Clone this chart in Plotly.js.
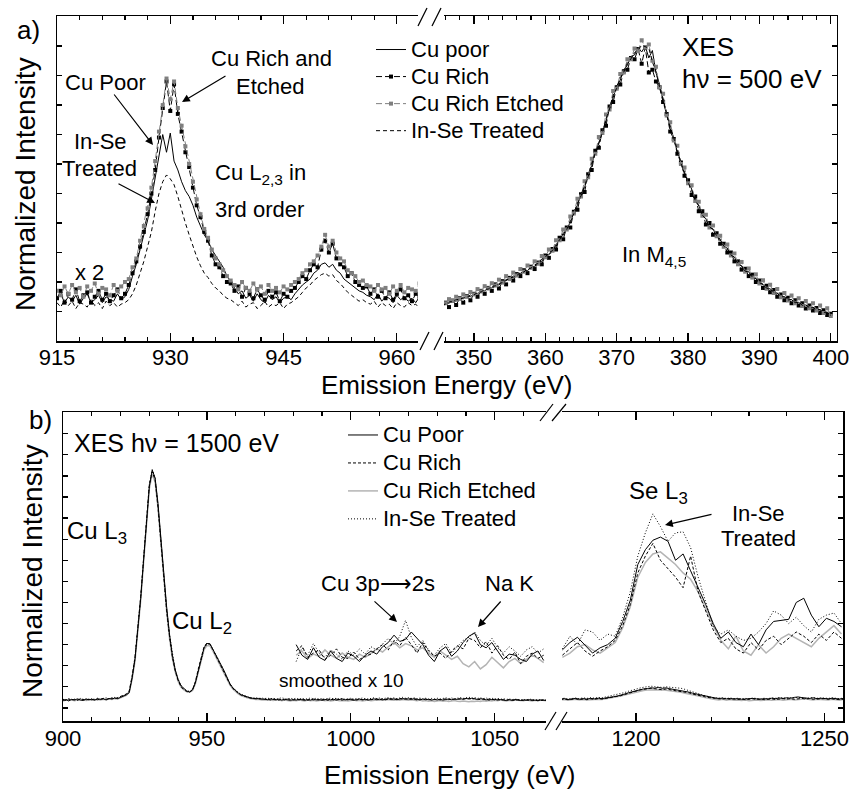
<!DOCTYPE html>
<html><head><meta charset="utf-8">
<script src="https://cdn.plot.ly/plotly-3.0.1.min.js"></script>
<style>body{margin:0;background:#fff}#chart{width:851px;height:790px}</style>
</head><body><div id="chart"></div>
<script>
// ---------- Panel a) XES hv = 500 eV ----------
// Cu L2,3 third order (x 2), energy grid 915 .. 963 eV, 0.5 eV step
const aL_start = 915, aL_step = 0.5;
const aL_poor = [1.4,1.6,1.3,1.5,1.35,1.55,1.25,1.45,1.6,1.3,1.4,1.55,1.3,1.5,1.4,1.35,1.6,1.4,1.5,1.75,
2.2,2.6,3.1,3.6,4.1,4.8,5.5,6.3,7.0,6.4,7.05,6.1,5.8,5.4,5.1,4.9,4.6,4.2,3.9,3.6,3.4,3.1,2.9,2.7,2.5,2.2,2.0,
1.8,1.6,1.7,1.45,1.55,1.35,1.6,1.4,1.3,1.55,1.4,1.5,1.3,1.45,1.5,1.4,
1.6,1.75,1.9,2.0,2.1,2.3,2.4,2.6,2.65,2.5,2.6,2.4,2.3,2.1,2.0,1.9,1.8,1.7,1.65,1.55,
1.5,1.4,1.6,1.35,1.5,1.45,1.3,1.55,1.4,1.5,1.35,1.45,1.3,1.5];
const aL_rich = [1.45,1.7,1.3,1.6,1.4,1.75,1.35,1.55,1.65,1.3,1.5,1.7,1.4,1.6,1.35,1.55,1.75,1.45,1.6,1.9,
2.3,2.7,3.2,3.7,4.3,5.0,5.8,6.9,7.9,8.8,7.8,8.7,7.7,7.1,6.4,5.9,5.2,4.6,4.2,3.7,3.4,2.9,2.6,2.5,2.2,2.0,1.95,
1.7,1.85,1.5,1.8,1.6,1.45,1.75,1.55,1.4,1.7,1.5,1.65,1.35,1.6,1.5,1.7,
1.8,2.0,2.2,2.1,2.4,2.6,2.5,3.1,3.4,3.0,3.3,2.8,2.6,2.5,2.2,2.3,2.0,1.9,1.8,1.85,
1.6,1.75,1.5,1.7,1.45,1.65,1.4,1.6,1.75,1.45,1.55,1.35,1.6,1.5];
const aL_etch = [1.7,1.55,1.85,1.6,1.9,1.65,1.8,1.5,1.85,1.7,1.95,1.6,1.8,1.75,1.55,1.9,1.7,1.85,2.0,2.1,
2.5,2.8,3.4,3.9,4.5,5.2,6.1,7.1,8.0,8.9,8.2,8.8,7.9,7.3,6.6,6.0,5.4,4.8,4.3,3.8,3.5,3.1,2.8,2.6,2.4,2.2,2.05,
1.9,1.75,2.0,1.8,1.7,1.95,1.75,1.85,1.6,1.9,1.7,1.8,1.65,1.85,1.75,1.9,
2.0,2.1,2.3,2.4,2.6,2.7,2.9,3.2,3.6,3.2,3.4,3.0,2.8,2.7,2.4,2.3,2.2,2.0,2.05,1.9,
1.85,1.7,1.9,1.75,1.8,1.6,1.85,1.7,1.9,1.65,1.8,1.75,1.7,1.95];
const aL_inse = [1.3,1.15,1.4,1.2,1.35,1.1,1.3,1.25,1.15,1.4,1.2,1.3,1.1,1.35,1.2,1.3,1.15,1.25,1.3,1.4,
1.6,1.9,2.3,2.7,3.2,3.7,4.4,5.0,5.4,5.63,5.5,5.3,4.9,4.4,4.0,3.6,3.2,2.85,2.55,2.3,2.15,1.95,1.8,1.7,1.55,1.45,1.4,
1.3,1.2,1.35,1.15,1.25,1.3,1.1,1.2,1.35,1.15,1.25,1.2,1.3,1.1,1.25,1.3,
1.4,1.5,1.65,1.8,1.9,2.05,2.15,2.25,2.3,2.2,2.25,2.05,1.95,1.8,1.65,1.55,1.45,1.35,1.4,1.3,
1.25,1.35,1.15,1.3,1.2,1.25,1.1,1.3,1.2,1.15,1.3,1.2,1.25,1.1];

// In M4,5, energy grid 345.5 .. 400 eV, 0.5 eV step
const aR_start = 345.5, aR_step = 0.5;
const aR_poor = [1.2,1.3,1.28,1.38,1.35,1.45,1.43,1.52,1.5,1.6,
1.6,1.7,1.7,1.8,1.8,1.92,1.9,2.02,2.04,2.15,
2.15,2.27,2.28,2.4,2.38,2.52,2.52,2.68,2.7,2.9,
2.92,3.12,3.2,3.5,3.58,3.85,4.0,4.4,4.6,5.0,
5.2,5.65,5.95,6.45,6.7,7.15,7.45,7.95,8.25,8.65,
8.85,9.2,9.35,9.65,9.7,9.95,9.8,10.0,9.6,9.85,
9.1,8.7,8.15,7.75,7.2,6.9,6.4,6.1,5.65,5.45,
5.15,4.75,4.6,4.25,4.15,3.85,3.8,3.55,3.45,3.2,
3.15,2.9,2.85,2.6,2.55,2.35,2.35,2.15,2.12,1.95,
1.92,1.78,1.77,1.65,1.62,1.5,1.49,1.4,1.4,1.3,
1.31,1.22,1.22,1.14,1.13,1.05,1.05,0.97,0.97,0.9];
const aR_rich = [1.1,1.3,1.15,1.37,1.22,1.45,1.3,1.52,1.38,1.6,
1.5,1.7,1.6,1.8,1.7,1.92,1.78,2.03,1.92,2.14,
2.05,2.27,2.2,2.4,2.3,2.52,2.44,2.66,2.6,2.9,
2.82,3.12,3.1,3.5,3.45,3.85,3.85,4.38,4.45,4.98,
5.05,5.65,5.8,6.45,6.55,7.15,7.3,7.95,8.1,8.6,
8.7,9.15,9.2,9.6,9.55,9.9,9.4,9.95,9.1,9.2,
8.8,8.6,8.1,7.7,7.1,6.85,6.35,6.05,5.6,5.45,
4.95,4.9,4.4,4.4,3.95,4.0,3.6,3.65,3.3,3.3,
3.0,3.0,2.7,2.7,2.42,2.45,2.2,2.25,2.0,2.05,
1.8,1.87,1.65,1.73,1.5,1.58,1.38,1.47,1.28,1.38,
1.2,1.28,1.1,1.2,1.03,1.12,0.95,1.04,0.88,0.92];
const aR_etch = [1.32,1.28,1.42,1.36,1.5,1.43,1.58,1.5,1.66,1.58,
1.76,1.68,1.86,1.78,1.96,1.88,2.08,1.98,2.2,2.1,
2.32,2.22,2.44,2.35,2.56,2.48,2.7,2.62,2.88,2.84,
3.1,3.06,3.42,3.42,3.78,3.78,4.22,4.32,4.82,4.9,
5.42,5.55,6.18,6.35,6.92,7.05,7.68,7.85,8.48,8.55,
9.05,9.1,9.55,9.55,9.92,9.85,10.2,9.95,10.05,9.5,
9.3,8.6,8.38,7.65,7.42,6.8,6.62,6.0,5.88,5.35,
5.28,4.75,4.72,4.25,4.28,3.85,3.92,3.55,3.57,3.2,
3.27,2.9,2.97,2.6,2.68,2.35,2.46,2.15,2.26,1.95,
2.06,1.77,1.91,1.63,1.76,1.48,1.63,1.37,1.54,1.28,
1.45,1.19,1.36,1.11,1.28,1.03,1.2,0.95,1.11,0.85];
const aR_inse = [1.22,1.25,1.33,1.33,1.41,1.4,1.48,1.48,1.56,1.56,
1.65,1.66,1.75,1.76,1.85,1.87,1.95,1.98,2.08,2.1,
2.2,2.22,2.32,2.34,2.45,2.47,2.58,2.63,2.78,2.84,
3.0,3.06,3.28,3.43,3.65,3.78,4.08,4.32,4.68,4.92,
5.28,5.57,6.03,6.37,6.78,7.07,7.53,7.87,8.33,8.57,
8.93,9.12,9.43,9.57,9.78,9.87,10.03,9.97,9.93,9.47,
9.13,8.62,8.23,7.67,7.28,6.82,6.48,6.02,5.73,5.37,
5.13,4.77,4.58,4.27,4.13,3.87,3.78,3.57,3.43,3.22,
3.13,2.92,2.83,2.62,2.55,2.37,2.33,2.17,2.13,1.97,
1.93,1.79,1.78,1.65,1.63,1.5,1.5,1.39,1.41,1.3,
1.32,1.21,1.23,1.13,1.15,1.05,1.07,0.97,0.98,0.87];

// ---------- Panel b) XES hv = 1500 eV ----------
// Cu L2,3 region, 900 .. 1068 eV, 1 eV step
const bL_start = 900, bL_step = 1;
const bL_poor = [0.36,0.4,0.33,0.41,0.37,0.43,0.38,0.35,0.42,0.39,
0.41,0.37,0.44,0.4,0.43,0.38,0.45,0.42,0.47,0.44,
0.5,0.55,0.62,0.72,1.4,2.3,3.6,5.2,7.0,8.9,
10.5,11.28,10.9,9.7,8.0,6.3,4.8,3.5,2.5,1.8,
1.35,1.05,0.9,0.8,0.76,0.85,1.2,1.8,2.4,2.85,
3.05,3.05,2.8,2.55,2.3,2.05,1.75,1.45,1.15,0.95,
0.8,0.7,0.62,0.56,0.52,0.48,0.46,0.43,0.45,0.41,
0.42,0.39,0.43,0.4,0.38,0.42,0.37,0.41,0.39,0.36,
0.4,0.37,0.41,0.38,0.36,0.4,0.37,0.42,0.38,0.4,
0.36,0.39,0.42,0.38,0.41,0.37,0.4,0.43,0.38,0.41,
0.39,0.36,0.4,0.42,0.38,0.41,0.37,0.4,0.43,0.39,
0.41,0.38,0.42,0.44,0.4,0.43,0.39,0.42,0.45,0.41,
0.43,0.4,0.44,0.41,0.38,0.42,0.39,0.41,0.37,0.4,
0.38,0.41,0.37,0.4,0.42,0.39,0.43,0.4,0.44,0.41,
0.45,0.42,0.46,0.43,0.4,0.44,0.41,0.38,0.42,0.39,
0.41,0.37,0.4,0.38,0.35,0.39,0.36,0.4,0.37,0.35,
0.38,0.36,0.39,0.35,0.37,0.34,0.38,0.36,0.35];
const bL_rich = [0.39,0.35,0.42,0.37,0.4,0.36,0.43,0.39,0.37,0.42,
0.38,0.43,0.39,0.42,0.45,0.41,0.44,0.47,0.43,0.48,
0.53,0.58,0.66,0.8,1.5,2.4,3.7,5.3,7.1,9.0,
10.6,11.2,10.8,9.5,7.8,6.1,4.6,3.4,2.4,1.75,
1.3,1.0,0.86,0.78,0.74,0.86,1.25,1.85,2.45,2.9,
3.08,3.02,2.78,2.5,2.25,2.0,1.7,1.4,1.12,0.92,
0.78,0.68,0.6,0.55,0.5,0.47,0.44,0.45,0.42,0.44,
0.4,0.43,0.38,0.42,0.4,0.37,0.41,0.38,0.43,0.39,
0.37,0.41,0.38,0.42,0.39,0.36,0.41,0.38,0.4,0.37,
0.41,0.38,0.36,0.41,0.38,0.42,0.39,0.37,0.41,0.38,
0.42,0.39,0.37,0.41,0.4,0.38,0.42,0.39,0.41,0.43,
0.4,0.43,0.39,0.41,0.44,0.4,0.42,0.45,0.41,0.44,
0.42,0.45,0.41,0.38,0.42,0.39,0.43,0.38,0.41,0.39,
0.42,0.38,0.41,0.43,0.39,0.42,0.4,0.44,0.41,0.43,
0.42,0.45,0.41,0.44,0.42,0.39,0.43,0.4,0.37,0.41,
0.38,0.41,0.37,0.39,0.36,0.4,0.38,0.35,0.39,0.37,
0.35,0.38,0.36,0.39,0.34,0.37,0.35,0.38,0.34];
const bL_etch = [0.33,0.37,0.35,0.39,0.34,0.38,0.36,0.4,0.35,0.37,
0.39,0.36,0.4,0.38,0.41,0.39,0.42,0.4,0.44,0.42,
0.48,0.52,0.6,0.74,1.35,2.2,3.5,5.1,6.9,8.8,
10.4,11.1,10.7,9.5,7.8,6.1,4.6,3.3,2.35,1.7,
1.25,0.98,0.85,0.77,0.75,0.83,1.15,1.7,2.3,2.75,
2.95,2.95,2.72,2.45,2.2,1.95,1.65,1.35,1.08,0.9,
0.75,0.65,0.58,0.52,0.48,0.45,0.42,0.4,0.41,0.38,
0.39,0.36,0.38,0.35,0.37,0.39,0.34,0.37,0.35,0.33,
0.36,0.34,0.38,0.35,0.33,0.37,0.34,0.36,0.33,0.35,
0.37,0.34,0.36,0.33,0.35,0.38,0.34,0.36,0.35,0.33,
0.35,0.37,0.34,0.36,0.33,0.35,0.37,0.34,0.36,0.38,
0.36,0.39,0.37,0.4,0.38,0.36,0.39,0.37,0.4,0.38,
0.37,0.39,0.36,0.34,0.37,0.33,0.35,0.32,0.34,0.31,
0.33,0.35,0.32,0.34,0.31,0.33,0.35,0.32,0.3,0.33,
0.31,0.29,0.32,0.3,0.33,0.31,0.34,0.32,0.35,0.33,
0.36,0.34,0.37,0.35,0.33,0.36,0.34,0.37,0.35,0.36,
0.34,0.37,0.35,0.33,0.36,0.34,0.37,0.35,0.34];
const bL_inse = [0.41,0.37,0.44,0.39,0.42,0.38,0.45,0.4,0.43,0.39,
0.44,0.4,0.46,0.42,0.45,0.48,0.43,0.47,0.5,0.46,
0.52,0.57,0.65,0.78,1.45,2.35,3.65,5.25,7.05,9.0,
10.6,11.3,10.9,9.6,7.9,6.2,4.7,3.45,2.5,1.8,
1.35,1.08,0.92,0.82,0.78,0.88,1.22,1.78,2.38,2.82,
3.02,3.04,2.8,2.55,2.28,2.02,1.72,1.45,1.15,0.96,
0.82,0.72,0.64,0.58,0.54,0.5,0.47,0.49,0.45,0.47,
0.44,0.47,0.43,0.46,0.42,0.45,0.48,0.44,0.42,0.46,
0.43,0.46,0.42,0.45,0.41,0.44,0.47,0.43,0.46,0.42,
0.45,0.41,0.44,0.47,0.43,0.46,0.42,0.45,0.41,0.44,
0.46,0.42,0.45,0.43,0.47,0.44,0.41,0.45,0.48,0.44,
0.47,0.43,0.46,0.49,0.45,0.48,0.44,0.47,0.5,0.46,
0.49,0.45,0.48,0.44,0.47,0.43,0.46,0.42,0.45,0.43,
0.46,0.42,0.45,0.48,0.44,0.47,0.43,0.46,0.49,0.45,
0.48,0.51,0.46,0.49,0.45,0.48,0.44,0.47,0.43,0.46,
0.42,0.45,0.41,0.44,0.4,0.43,0.39,0.42,0.4,0.38,
0.41,0.38,0.42,0.39,0.37,0.4,0.38,0.36,0.39];

// Se L3 region, 1180 .. 1255 eV, 1 eV step
const bR_start = 1180, bR_step = 1;
const bR_poor = [0.42,0.44,0.4,0.43,0.45,0.41,0.44,0.42,0.45,0.43,
0.46,0.44,0.48,0.5,0.53,0.56,0.6,0.66,0.72,0.77,
0.83,0.87,0.9,0.92,0.95,0.94,0.97,0.93,0.95,0.91,
0.88,0.86,0.84,0.79,0.75,0.7,0.66,0.61,0.57,0.53,
0.5,0.47,0.45,0.46,0.43,0.45,0.42,0.44,0.41,0.43,
0.42,0.45,0.43,0.41,0.44,0.42,0.46,0.44,0.47,0.45,
0.48,0.46,0.5,0.52,0.49,0.47,0.45,0.48,0.44,0.46,
0.45,0.43,0.46,0.44,0.42,0.45];
const bR_rich = [0.4,0.42,0.39,0.41,0.43,0.4,0.42,0.39,0.43,0.41,
0.44,0.42,0.46,0.49,0.51,0.55,0.58,0.64,0.7,0.75,
0.8,0.85,0.88,0.9,0.93,0.91,0.88,0.86,0.9,0.85,
0.83,0.8,0.78,0.74,0.72,0.66,0.63,0.58,0.54,0.5,
0.47,0.45,0.43,0.42,0.44,0.41,0.43,0.4,0.42,0.39,
0.41,0.43,0.4,0.42,0.39,0.41,0.43,0.4,0.42,0.44,
0.42,0.44,0.41,0.43,0.45,0.42,0.44,0.41,0.43,0.42,
0.44,0.41,0.43,0.4,0.42,0.41];
const bR_etch = [0.38,0.4,0.37,0.39,0.41,0.38,0.4,0.37,0.39,0.38,
0.41,0.4,0.43,0.46,0.48,0.52,0.56,0.61,0.66,0.71,
0.76,0.8,0.83,0.85,0.86,0.87,0.85,0.86,0.84,0.82,
0.79,0.77,0.74,0.7,0.67,0.63,0.59,0.55,0.5,0.46,
0.42,0.4,0.38,0.41,0.37,0.4,0.36,0.38,0.35,0.37,
0.34,0.36,0.38,0.35,0.37,0.39,0.36,0.38,0.4,0.37,
0.39,0.41,0.38,0.4,0.42,0.43,0.4,0.38,0.41,0.39,
0.4,0.38,0.41,0.39,0.37,0.4];
const bR_inse = [0.43,0.46,0.42,0.45,0.47,0.44,0.48,0.45,0.49,0.46,
0.5,0.48,0.52,0.55,0.58,0.62,0.67,0.73,0.79,0.85,
0.9,0.94,0.98,1.0,1.03,1.01,0.99,0.97,1.0,0.98,
0.96,0.97,0.93,0.88,0.83,0.77,0.71,0.65,0.59,0.54,
0.5,0.48,0.46,0.48,0.45,0.47,0.44,0.46,0.43,0.45,
0.44,0.47,0.45,0.43,0.46,0.44,0.48,0.46,0.49,0.47,
0.46,0.49,0.47,0.5,0.48,0.45,0.47,0.49,0.46,0.48,
0.47,0.45,0.48,0.46,0.44,0.47];

// smoothed x 10 insets
const sL_start = 981, sL_step = 2;   // 981 .. 1067 eV
const sL_poor = [3.0,2.5,2.3,2.85,2.4,2.25,2.7,2.35,2.2,2.6,2.45,2.2,2.5,2.7,2.55,2.9,3.1,3.45,3.15,3.25,
3.6,3.3,3.0,2.5,2.2,2.7,2.9,2.45,2.7,3.1,3.4,3.55,3.0,2.85,3.1,2.7,2.3,2.55,2.5,2.3,2.2,2.55,2.7,2.25];
const sL_rich = [2.7,2.95,2.4,2.6,2.75,2.3,2.5,2.8,2.4,2.35,2.65,2.3,2.45,2.55,2.8,3.0,2.75,3.2,2.95,3.35,
3.0,2.6,3.1,2.7,2.45,2.6,2.35,2.7,2.95,2.8,3.3,3.2,2.85,3.15,2.6,2.95,2.5,2.3,2.65,2.1,2.45,2.6,2.35,2.5];
const sL_etch = [2.5,2.7,2.35,2.55,2.45,2.75,2.5,2.35,2.6,2.4,2.3,2.55,2.4,2.6,2.8,2.65,2.9,3.1,2.85,3.05,
2.95,2.75,2.85,2.6,2.4,2.7,2.5,2.3,2.45,2.1,1.95,2.2,1.85,2.05,2.4,2.15,1.9,2.2,2.35,2.1,2.3,2.5,2.35,2.15];
const sL_inse = [2.2,2.85,2.5,3.05,2.6,2.4,2.75,2.55,2.3,2.7,2.5,2.8,2.55,2.9,2.75,3.05,3.3,3.0,3.4,4.15,
3.35,2.9,3.2,2.75,2.5,2.85,3.05,2.6,2.9,3.2,3.35,3.6,3.2,2.95,3.3,2.85,2.6,2.9,2.7,2.45,2.75,2.9,2.6,2.8];
const sR_start = 1180.5, sR_step = 2; // 1180.5 .. 1254.5 eV
const sR_poor = [2.75,3.1,3.35,2.95,2.6,2.85,3.0,3.3,4.1,5.1,6.8,7.5,7.95,8.1,7.9,7.0,7.3,6.5,5.7,4.9,
4.0,3.3,3.6,3.1,2.9,3.5,3.0,3.7,4.1,4.15,4.2,5.0,5.2,4.4,3.85,4.25,4.1,3.85];
const sR_rich = [2.5,2.8,3.1,2.7,2.45,2.7,2.9,3.2,3.9,4.9,6.4,7.2,7.8,7.0,6.6,6.2,5.7,7.2,5.5,4.6,
3.7,3.1,3.3,2.8,2.6,3.1,2.75,3.2,3.4,3.0,3.3,3.6,3.4,3.1,3.5,3.2,3.6,3.3];
const sR_etch = [2.4,2.6,2.9,3.0,2.75,2.6,2.85,3.1,3.8,4.8,6.2,6.9,7.3,7.4,7.1,6.8,6.4,6.1,5.5,4.7,
3.9,3.2,2.8,3.4,2.7,2.5,3.0,2.6,2.9,3.3,3.5,3.3,3.1,2.9,3.3,3.6,3.9,3.5];
const sR_inse = [2.8,3.4,3.0,3.7,3.6,3.2,3.5,3.4,4.3,5.5,7.2,8.3,9.2,8.6,7.9,8.3,8.35,7.6,6.2,5.0,
3.85,3.5,3.7,3.4,3.2,3.3,3.6,4.0,4.6,4.4,4.0,4.3,3.9,3.6,4.2,4.4,4.5,4.0];

const namesA = ['Cu poor','Cu Rich','Cu Rich Etched','In-Se Treated'];
const namesB = ['Cu Poor','Cu Rich','Cu Rich Etched','In-Se Treated'];

// ---------- drawing ----------
const FONT = 'Liberation Sans, Arial, Helvetica, sans-serif';
const W = 851, H = 790;
const px = x => x / W, py = y => 1 - y / H;

const styA = [
  {mode:'lines', line:{color:'#000', width:1}},
  {mode:'lines+markers', line:{color:'#000', width:1, dash:'6px,3px'}, marker:{symbol:'square', size:4, color:'#000'}},
  {mode:'lines+markers', line:{color:'#7f7f7f', width:1, dash:'6px,3px'}, marker:{symbol:'square', size:4, color:'#7f7f7f'}},
  {mode:'lines', line:{color:'#000', width:1, dash:'4px,3px'}}
];
const styB = [
  {mode:'lines', line:{color:'#000', width:1}},
  {mode:'lines', line:{color:'#000', width:1, dash:'3px,2px'}},
  {mode:'lines', line:{color:'#b4b4b4', width:1.5}},
  {mode:'lines', line:{color:'#000', width:1, dash:'1px,2px'}}
];

const LEGSPAN = t => '<span style="font-size:22px">' + t + '</span>';

const traces = [];
function add(sty, name, x0, dx, y, xa, ya, leg, show, rank) {
  traces.push(Object.assign({type:'scatter', x0:x0, dx:dx, y:y, xaxis:xa, yaxis:ya, name:LEGSPAN(name),
    legend:leg, showlegend:show, legendrank:rank, hoverinfo:'skip'}, JSON.parse(JSON.stringify(sty))));
}
const aLs = [aL_poor, aL_rich, aL_etch, aL_inse];
const aRs = [aR_poor, aR_rich, aR_etch, aR_inse];
for (let i = 0; i < 4; i++) add(styA[i], namesA[i], aL_start, aL_step, aLs[i], 'x', 'y', 'legend', true, i + 1);
for (let i = 0; i < 4; i++) add(styA[i], namesA[i], aR_start, aR_step, aRs[i], 'x2', 'y2', 'legend', false, i + 1);

const bLs = [bL_poor, bL_rich, bL_etch, bL_inse];
const bRs = [bR_poor, bR_rich, bR_etch, bR_inse];
const sLs = [sL_poor, sL_rich, sL_etch, sL_inse];
const sRs = [sR_poor, sR_rich, sR_etch, sR_inse];
const orderB = [2, 0, 1, 3]; // grey drawn first, legend order kept with legendrank
for (const i of orderB) add(styB[i], namesB[i], bL_start, bL_step, bLs[i], 'x3', 'y3', 'legend2', true, i + 1);
for (const i of orderB) add(styB[i], namesB[i], bR_start, bR_step, bRs[i], 'x4', 'y4', 'legend2', false, i + 1);
for (const i of orderB) add(styB[i], namesB[i], sL_start, sL_step, sLs[i], 'x3', 'y3', 'legend2', false, i + 1);
for (const i of orderB) add(styB[i], namesB[i], sR_start, sR_step, sRs[i], 'x4', 'y4', 'legend2', false, i + 1);

const xCommon = {ticks:'inside', ticklen:8, tickwidth:1.2, tickcolor:'#000', showline:true, linewidth:1.5,
  linecolor:'#000', mirror:'ticks', showgrid:false, zeroline:false, tickfont:{size:22, family:FONT}};
const yCommon = {ticks:'inside', ticklen:5, tickwidth:1.2, tickcolor:'#000', showline:true, linewidth:1.5,
  linecolor:'#000', showgrid:false, zeroline:false, showticklabels:false, dtick:1, tick0:0};

const yDomA = [py(341), py(16)], yDomB = [py(721), py(412)];

const layout = {
  width: W, height: H, margin:{l:0, r:0, t:0, b:0},
  paper_bgcolor:'#fff', plot_bgcolor:'rgba(0,0,0,0)',
  font:{family:FONT, size:22, color:'#000'},
  xaxis: Object.assign({}, xCommon, {domain:[px(57), px(418)], range:[915, 962.8], anchor:'y',
    tick0:915, dtick:15, ticklabelstandoff:-4, minor:{dtick:3, ticks:'inside', ticklen:4, tickcolor:'#000'}}),
  xaxis2: Object.assign({}, xCommon, {domain:[px(444), px(836.5)], range:[345.8, 400.8], anchor:'y2',
    tick0:350, dtick:10, ticklabelstandoff:-4, minor:{dtick:2, ticks:'inside', ticklen:4, tickcolor:'#000'}}),
  xaxis3: Object.assign({}, xCommon, {domain:[px(63), px(546)], range:[900, 1067.8], anchor:'y3',
    tick0:900, dtick:50, ticklabelstandoff:-3, minor:{dtick:10, ticks:'inside', ticklen:4, tickcolor:'#000'}}),
  xaxis4: Object.assign({}, xCommon, {domain:[px(562), px(843)], range:[1180.4, 1254.9], anchor:'y4',
    tick0:1200, dtick:50, ticklabelstandoff:-3, minor:{dtick:10, ticks:'inside', ticklen:4, tickcolor:'#000'}}),
  yaxis: Object.assign({}, yCommon, {domain:yDomA, range:[0, 11.02], anchor:'x', side:'left'}),
  yaxis2: Object.assign({}, yCommon, {domain:yDomA, matches:'y', anchor:'x2', side:'right'}),
  yaxis3: Object.assign({}, yCommon, {domain:yDomB, range:[-0.62, 14.03], anchor:'x3', side:'left'}),
  yaxis4: Object.assign({}, yCommon, {domain:yDomB, matches:'y3', anchor:'x4', side:'right'}),
  legend: {x:px(371), y:py(31), xanchor:'left', yanchor:'top', bgcolor:'rgba(0,0,0,0)',
    font:{size:18.5, family:FONT}, traceorder:'normal', itemclick:false},
  legend2: {x:px(343), y:py(416), xanchor:'left', yanchor:'top', bgcolor:'rgba(0,0,0,0)',
    font:{size:19.2, family:FONT}, traceorder:'normal', itemclick:false},
  annotations: [],
  shapes: []
};

function txt(t, x, y, size, opts) {
  layout.annotations.push(Object.assign({text:t, x:px(x), y:py(y), xref:'paper', yref:'paper',
    showarrow:false, xanchor:'center', yanchor:'middle', font:{size:size, family:FONT, color:'#000'}}, opts || {}));
}
function arrow(tx, ty, hx, hy) {
  layout.annotations.push({text:'', x:px(hx), y:py(hy), xref:'paper', yref:'paper', showarrow:true,
    ax:tx - hx, ay:ty - hy, axref:'pixel', ayref:'pixel', arrowhead:2, arrowsize:1.3, arrowwidth:1.2,
    arrowcolor:'#000', standoff:0, startstandoff:0});
}
function brk(x1, y1, x2, y2) {
  layout.shapes.push({type:'line', xref:'paper', yref:'paper', x0:px(x1), y0:py(y1), x1:px(x2), y1:py(y2),
    line:{color:'#000', width:1.2}});
}

// panel a texts
txt('a)', 29, 30, 26);
txt('Normalized Intensity', 25, 184, 28, {textangle:-90});
txt('Emission Energy (eV)', 447, 385, 26);
txt('Cu Poor', 105, 82, 22);
txt('In-Se', 100, 142, 22);
txt('Treated', 99, 168, 22);
txt('Cu Rich and', 271, 59, 22);
txt('Etched', 270, 86, 22);
txt('Cu L<sub>2,3</sub> in', 213, 174, 22, {xanchor:'left'});
txt('3rd order', 213, 209, 22, {xanchor:'left'});
txt('x 2', 89, 272, 22);
txt('In M<sub>4,5</sub>', 620, 256, 22, {xanchor:'left'});
txt('XES', 680, 47, 26, {xanchor:'left'});
txt('h\u03bd = 500 eV', 680, 79, 26, {xanchor:'left'});
arrow(113, 93, 153, 145);
arrow(117, 183, 155, 203);
arrow(227, 75, 182, 102);

// panel b texts
txt('b)', 40, 420, 26);
txt('Normalized Intensity', 32, 571, 28, {textangle:-90});
txt('Emission Energy (eV)', 449, 775, 26);
txt('XES h\u03bd = 1500 eV', 72, 443, 25, {xanchor:'left'});
txt('Cu L<sub>3</sub>', 65, 532, 24, {xanchor:'left'});
txt('Cu L<sub>2</sub>', 170, 622, 24, {xanchor:'left'});
txt('Cu 3p\u27f62s', 378, 583, 22);
txt('Na K', 509, 583, 22);
txt('smoothed x 10', 341, 680, 19);
txt('Se L<sub>3</sub>', 627, 492, 24, {xanchor:'left'});
txt('In-Se', 758, 513, 22);
txt('Treated', 758, 538, 22);
arrow(373, 600, 397, 622);
arrow(502, 600, 478, 627);
arrow(713, 514, 665, 525);

// axis break marks
brk(418, 26, 427, 8); brk(432, 26, 441, 8);
brk(420, 350, 429, 332); brk(434, 350, 443, 332);
brk(540, 421, 553, 404); brk(552, 421, 566, 404);
brk(545, 730, 556, 712); brk(556, 730, 567, 712);

Plotly.newPlot('chart', traces, layout, {staticPlot:true, displayModeBar:false});
</script></body></html>
